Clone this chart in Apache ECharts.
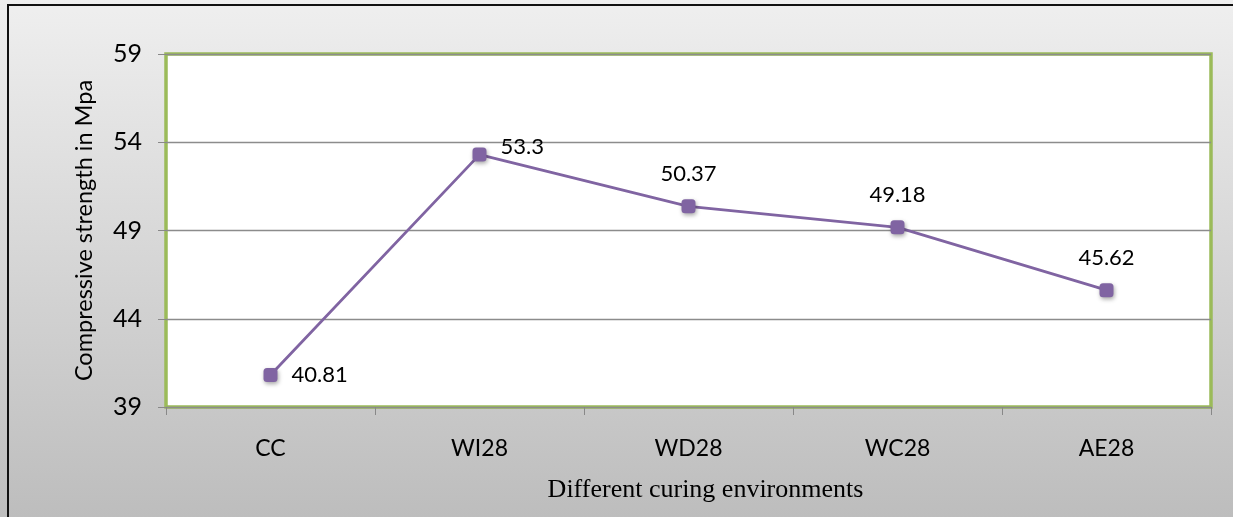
<!DOCTYPE html>
<html><head><meta charset="utf-8">
<script src="https://cdn.jsdelivr.net/npm/echarts@6/dist/echarts.min.js"></script>
<style>html,body{margin:0;padding:0;}#c{width:1233px;height:517px;}</style>
</head><body><div id="c"></div>
<script>
const categories = ['CC', 'WI28', 'WD28', 'WC28', 'AE28'];
const strength = [40.81, 53.3, 50.37, 49.18, 45.62];
const yTicks = [39, 44, 49, 54, 59];
const labelPos = ['right', 'right', 'top', 'top', 'top'];

const chart = echarts.init(document.getElementById('c'));
const font = 'Lato, "Open Sans", sans-serif';
chart.setOption({
  animation: false,
  backgroundColor: {type: 'linear', x: 0, y: 0, x2: 0, y2: 1,
    colorStops: [{offset: 0, color: '#efefef'}, {offset: 1, color: '#bdbdbd'}]},
  graphic: [
    {type: 'line', shape: {x1: 8, y1: 5, x2: 8, y2: 517}, style: {stroke: '#111', lineWidth: 2}},
    {type: 'line', shape: {x1: 7, y1: 5, x2: 1233, y2: 5}, style: {stroke: '#111', lineWidth: 2}}
  ],
  grid: {left: 166, right: 22, top: 54, bottom: 110, show: true,
    backgroundColor: '#ffffff', borderColor: '#9bbb59', borderWidth: 3.5},
  xAxis: {
    type: 'category', data: categories, boundaryGap: true,
    name: 'Different curing environments', nameLocation: 'middle', nameGap: 70,
    nameTextStyle: {fontFamily: '"Liberation Serif", "DejaVu Serif", serif', fontSize: 26, color: '#000', padding: [0, 0, 0, 34]},
    axisLine: {show: false},
    axisTick: {show: true, length: 8, lineStyle: {color: '#888'}, alignWithLabel: false},
    axisLabel: {fontFamily: font, fontSize: 23, color: '#000', margin: 30}
  },
  yAxis: {
    type: 'value', min: yTicks[0], max: yTicks[yTicks.length - 1], interval: 5,
    name: 'Compressive strength in Mpa', nameLocation: 'middle', nameGap: 70, nameRotate: 90,
    nameTextStyle: {fontFamily: font, fontSize: 23.5, color: '#000'},
    axisLine: {show: false},
    axisTick: {show: true, length: 8, lineStyle: {color: '#888'}},
    splitLine: {lineStyle: {color: '#8c8c8c', width: 1.3}},
    axisLabel: {fontFamily: font, fontSize: 25, color: '#000', margin: 24}
  },
  series: [{
    type: 'line', data: strength.map((v, i) => ({value: v, label: {position: labelPos[i], offset: i === 1 ? [0, -8] : [0, 0]}})),
    symbol: 'roundRect', symbolSize: 14,
    lineStyle: {color: '#8064a2', width: 2.8},
    itemStyle: {color: '#8064a2', shadowColor: 'rgba(0,0,0,0.35)', shadowBlur: 4, shadowOffsetX: 1, shadowOffsetY: 2},
    label: {show: true, fontFamily: font, fontSize: 22, color: '#000', distance: 14}
  }]
});
</script></body></html>
